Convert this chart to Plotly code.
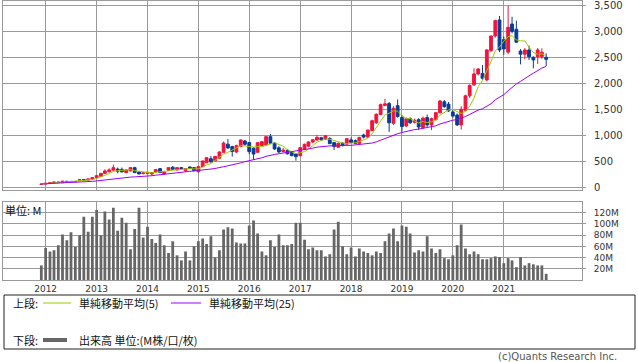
import pandas as pd
import plotly.graph_objects as go

# ---------------- data (monthly, Dec 2011 .. Nov 2021) ----------------
months = pd.date_range("2011-12-01", periods=120, freq="MS")

open_ = [55, 62, 74, 86, 100, 88, 116, 114, 106, 128, 150, 138,
         160, 186, 210, 268, 300, 330, 350, 345, 282, 314, 378, 295,
         263, 263, 256, 295, 359, 256, 327, 385, 333, 378, 320, 391,
         378, 300, 397, 474, 550, 510, 560, 673, 830, 782, 680, 785,
         891, 860, 750, 673, 801, 814, 974, 850, 760, 690, 711, 667,
         641, 610, 730, 790, 870, 910, 955, 925, 940, 860, 770, 846,
         830, 912, 897, 845, 1006, 965, 1090, 1240, 1400, 1575, 1610, 1230,
         1570, 1340, 1180, 1320, 1250, 1300, 1150, 1340, 1200, 1300, 1435, 1645,
         1600, 1450, 1390, 1200, 1480, 1760, 1970, 2180, 2190, 2064, 2628, 2910,
         3218, 2840, 2600, 3140, 3040, 2620, 2560, 2640, 2500, 2513, 2513, 2500]
high = [68, 80, 92, 106, 106, 125, 122, 120, 118, 150, 158, 165,
        190, 228, 275, 346, 365, 436, 380, 380, 345, 390, 395, 305,
        285, 295, 290, 350, 370, 300, 385, 410, 385, 390, 365, 400,
        385, 400, 515, 580, 603, 600, 690, 880, 929, 800, 820, 920,
        910, 870, 770, 870, 890, 980, 1025, 870, 790, 760, 730, 690,
        660, 770, 840, 880, 925, 1006, 970, 1006, 960, 870, 860, 870,
        945, 960, 920, 970, 1030, 1110, 1300, 1420, 1610, 1700, 1640, 1560,
        1690, 1390, 1340, 1345, 1320, 1330, 1360, 1400, 1340, 1450, 1680, 1680,
        1640, 1480, 1420, 1560, 1780, 1980, 2290, 2290, 2350, 2660, 2920, 3220,
        3295, 2900, 3487, 3280, 3205, 2660, 2680, 2724, 2520, 2680, 2673, 2577]
low = [50, 60, 70, 72, 84, 82, 100, 102, 100, 120, 130, 132,
       155, 180, 205, 260, 285, 320, 269, 290, 275, 305, 275, 250,
       250, 255, 228, 290, 275, 250, 320, 340, 328, 345, 295, 352,
       312, 288, 390, 465, 470, 500, 540, 660, 740, 590, 660, 770,
       800, 635, 525, 660, 790, 800, 830, 720, 660, 670, 630, 595,
       513, 590, 715, 770, 850, 895, 900, 910, 830, 718, 760, 790,
       820, 850, 830, 835, 940, 950, 1080, 1220, 1390, 1560, 1065, 1200,
       1340, 1070, 1160, 1220, 1230, 1100, 1120, 1160, 1100, 1290, 1420, 1530,
       1450, 1340, 1180, 1110, 1460, 1720, 1950, 2150, 2060, 2040, 2600, 2880,
       2600, 2550, 2560, 2960, 2780, 2365, 2460, 2449, 2288, 2372, 2470, 2333]
close = [62, 76, 88, 100, 90, 118, 106, 106, 112, 146, 136, 160,
         186, 224, 268, 314, 335, 378, 310, 296, 333, 378, 282, 256,
         276, 288, 282, 340, 282, 295, 378, 346, 378, 352, 359, 359,
         320, 397, 506, 570, 490, 595, 680, 850, 756, 690, 800, 910,
         827, 686, 640, 859, 878, 974, 846, 737, 680, 715, 645, 610,
         590, 763, 827, 872, 915, 960, 915, 990, 840, 785, 846, 801,
         935, 860, 845, 960, 965, 1100, 1280, 1405, 1590, 1605, 1240, 1520,
         1360, 1170, 1320, 1240, 1290, 1160, 1330, 1200, 1320, 1435, 1660, 1550,
         1470, 1370, 1200, 1500, 1760, 1960, 2180, 2275, 2096, 2641, 2910, 3205,
         2641, 2660, 3077, 3000, 2790, 2560, 2640, 2510, 2449, 2641, 2596, 2461]
volume_m = [26, 57, 51, 53, 62, 81, 71, 85, 59, 80, 113, 86,
            113, 125, 80, 122, 108, 129, 88, 111, 102, 55, 91, 129,
            76, 95, 73, 66, 81, 62, 48, 69, 44, 35, 51, 35,
            60, 69, 74, 64, 78, 40, 53, 90, 94, 92, 67, 65,
            65, 97, 106, 83, 51, 44, 71, 59, 81, 62, 62, 64,
            102, 102, 72, 55, 58, 53, 53, 42, 46, 90, 104, 60,
            46, 58, 42, 56, 51, 48, 44, 51, 48, 69, 83, 92,
            69, 97, 95, 83, 49, 53, 51, 78, 56, 48, 55, 39,
            37, 44, 62, 99, 56, 46, 51, 46, 37, 37, 39, 42,
            41, 30, 39, 35, 23, 41, 26, 30, 28, 26, 26, 11]

year_labels = ["2012", "2013", "2014", "2015", "2016", "2017", "2018", "2019", "2020", "2021"]
price_ticks = [0, 500, 1000, 1500, 2000, 2500, 3000, 3500]
price_tick_text = ["0", "500", "1,000", "1,500", "2,000", "2,500", "3,000", "3,500"]
vol_ticks = [20, 40, 60, 80, 100, 120]
vol_tick_text = ["20M", "40M", "60M", "80M", "100M", "120M"]

# moving averages of the monthly close (as in the chart legend)
closes = pd.Series(close, dtype=float)
ma5 = closes.rolling(5, min_periods=1).mean().tolist()
ma25 = closes.rolling(25, min_periods=1).mean().tolist()
year_ticks = [y + "-01-01" for y in year_labels]

# ---------------- style ----------------
RED = "#F0143C"
BLUE = "#0A3C96"
GREEN = "#9ACD00"
PURPLE = "#A000F5"
VOLC = "#666666"
GRID = "#9A9A9A"
TXT = "#333333"
W, H = 638, 362
ML, MR, MT, MB = 3, 56, 1, 82
PW, PH = W - ML - MR, H - MT - MB


def px(x):
    return (x - ML) / PW


def py(y):
    return (H - MB - y) / PH


fig = go.Figure()
fig.add_trace(go.Candlestick(
    x=months, open=open_, high=high, low=low, close=close,
    increasing=dict(line=dict(color=RED, width=1), fillcolor=RED),
    decreasing=dict(line=dict(color=BLUE, width=1), fillcolor=BLUE),
    whiskerwidth=0, showlegend=False, hoverinfo="skip", xaxis="x", yaxis="y"))
fig.add_trace(go.Scatter(x=months, y=ma5, mode="lines", line=dict(color=GREEN, width=1),
                         showlegend=False, hoverinfo="skip", xaxis="x", yaxis="y"))
fig.add_trace(go.Scatter(x=months, y=ma25, mode="lines", line=dict(color=PURPLE, width=1),
                         showlegend=False, hoverinfo="skip", xaxis="x", yaxis="y"))
fig.add_trace(go.Bar(x=months, y=volume_m, marker=dict(color=VOLC, line=dict(width=0)),
                     width=20 * 86400000, showlegend=False, hoverinfo="skip",
                     xaxis="x2", yaxis="y2"))

xcommon = dict(type="date", range=["2011-03-01", "2022-07-16"],
               tickmode="array", tickvals=year_ticks, ticktext=year_labels,
               showgrid=True, gridcolor=GRID, gridwidth=1,
               showline=True, mirror=True, linecolor=GRID, linewidth=1,
               zeroline=False, ticks="", fixedrange=True)
fig.update_layout(
    width=W, height=H, margin=dict(l=ML, r=MR, t=MT, b=MB, pad=0),
    paper_bgcolor="white", plot_bgcolor="white", showlegend=False,
    boxgap=0.2, boxgroupgap=0.1,
    xaxis=dict(**xcommon, domain=[0, 1], anchor="y", showticklabels=False,
               rangeslider=dict(visible=False)),
    xaxis2=dict(**xcommon, domain=[0, 1], anchor="y2", matches="x", showticklabels=True,
                tickfont=dict(family="DejaVu Sans", size=9, color=TXT)),
    yaxis=dict(domain=[py(190), 1], range=[-52, 3583], side="right",
               tickvals=price_ticks, ticktext=price_tick_text,
               showgrid=True, gridcolor=GRID, zeroline=False,
               showline=True, mirror=True, linecolor=GRID,
               ticks="outside", ticklen=3, tickcolor=GRID, ticklabelstandoff=6,
               ticklabeloverflow="allow",
               tickfont=dict(family="DejaVu Sans", size=10, color=TXT), fixedrange=True),
    yaxis2=dict(domain=[0, py(201.5)], range=[0, 140], side="right", anchor="x2",
                tickvals=vol_ticks, ticktext=vol_tick_text,
                showgrid=True, gridcolor=GRID, zeroline=False,
                showline=True, mirror=True, linecolor=GRID,
                ticks="outside", ticklen=3, tickcolor=GRID, ticklabelstandoff=6,
                tickfont=dict(family="DejaVu Sans", size=9, color=TXT), fixedrange=True),
)

JP = "Noto Sans CJK JP"
row1, row2 = 303, 340
shapes = [
    dict(type="rect", xref="paper", yref="paper", x0=px(4), x1=px(635), y0=py(349), y1=py(295),
         line=dict(color="#222222", width=1), fillcolor="rgba(0,0,0,0)"),
    dict(type="line", xref="paper", yref="paper", x0=px(43), x1=px(71), y0=py(row1), y1=py(row1),
         line=dict(color=GREEN, width=1)),
    dict(type="line", xref="paper", yref="paper", x0=px(171), x1=px(201), y0=py(row1), y1=py(row1),
         line=dict(color=PURPLE, width=1)),
    dict(type="line", xref="paper", yref="paper", x0=px(43), x1=px(67), y0=py(row2), y1=py(row2),
         line=dict(color=VOLC, width=4)),
]
fig.update_layout(shapes=shapes)


def note(text, x, y, size=11, color="#111111", anchor="left", family=JP):
    fig.add_annotation(text=text, xref="paper", yref="paper", x=px(x), y=py(y),
                       xanchor=anchor, yanchor="middle", showarrow=False,
                       font=dict(family=family, size=size, color=color))


note("上段:", 11, row1)
note("単純移動平均(5)", 77, row1)
note("単純移動平均(25)", 207, row1)
note("下段:", 11, row2)
note("出来高 単位:(M株/口/枚)", 77, row2)
note("単位: M", 3, 210, size=11)
note("(c)Quants Research Inc.", 619, 356, size=10, color="#555555", anchor="right",
     family="DejaVu Sans")

fig.write_html("out.html", config={"displayModeBar": False},
               post_script="document.body.style.margin='0';document.body.style.overflow='hidden';")
